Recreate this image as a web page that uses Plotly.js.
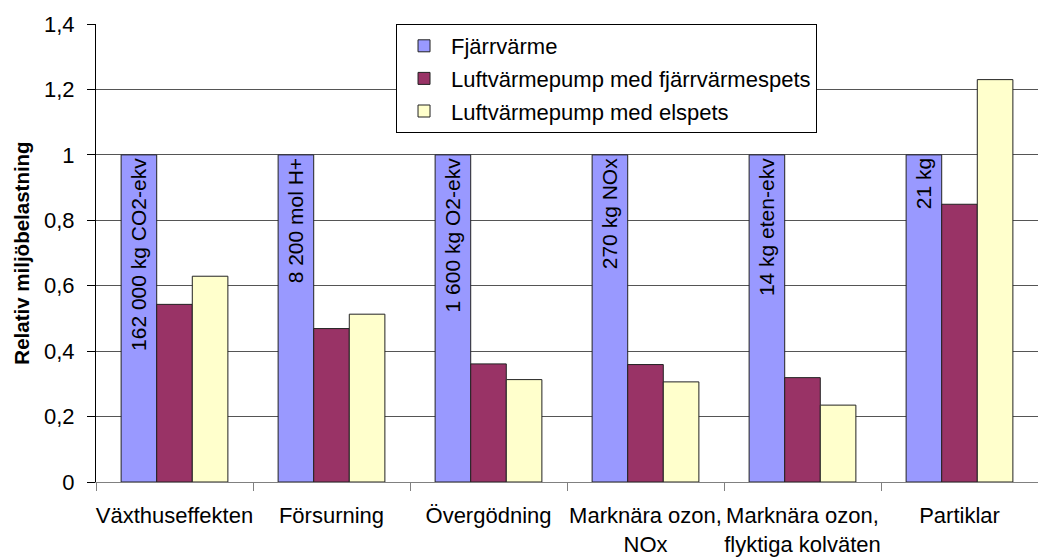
<!DOCTYPE html>
<html>
<head>
<meta charset="utf-8">
<script src="https://cdn.plot.ly/plotly-3.0.1.min.js"></script>
<style>html,body{margin:0;padding:0;background:#fff;}#chart{width:1038px;height:559px;}</style>
</head>
<body>
<div id="chart"></div>
<script>
const categories = ["Växthuseffekten", "Försurning", "Övergödning", "Marknära ozon,<br>NOx", "Marknära ozon,<br>flyktiga kolväten", "Partiklar"];
const fjarrvarme = [1, 1, 1, 1, 1, 1];
const luftFjarrspets = [0.543, 0.469, 0.361, 0.359, 0.319, 0.849];
const luftElspets = [0.629, 0.513, 0.313, 0.306, 0.235, 1.230];
const fjarrText = ["162 000 kg CO2-ekv", "8 200 mol H+", "1 600 kg O2-ekv", "270 kg NOx", "14 kg eten-ekv", "21 kg"];
const seriesNames = ["Fjärrvärme", "Luftvärmepump med fjärrvärmespets", "Luftvärmepump med elspets"];
const yTicks = [0, 0.2, 0.4, 0.6, 0.8, 1, 1.2, 1.4];

const FONT = "Liberation Sans, Arial, sans-serif";
const lineStyle = {color: "#222", width: 1};

const traces = [
  {type: "bar", name: seriesNames[0], x: categories, y: fjarrvarme, legendgroup: "a",
   marker: {color: "#9999FF", line: lineStyle},
   text: fjarrText, textposition: "inside", insidetextanchor: "end", textangle: -90,
   textfont: {family: FONT, size: 21, color: "#000"}, hoverinfo: "none"},
  {type: "bar", name: seriesNames[1], x: categories, y: luftFjarrspets, legendgroup: "b",
   marker: {color: "#993366", line: lineStyle}, hoverinfo: "none"},
  {type: "bar", name: seriesNames[2], x: categories, y: luftElspets, legendgroup: "c",
   marker: {color: "#FFFFCC", line: lineStyle}, hoverinfo: "none"}
];

const layout = {
  width: 1038, height: 559,
  margin: {l: 96, r: 0, t: 24, b: 77, pad: 0},
  paper_bgcolor: "#fff", plot_bgcolor: "#fff",
  separators: ", ",
  font: {family: FONT, size: 22, color: "#000"},
  barmode: "group", bargap: 0.32, bargroupgap: 0,
  showlegend: true,
  legend: {x: 0.3185, y: 1, xanchor: "left", yanchor: "top",
    bgcolor: "#fff", bordercolor: "#000", borderwidth: 1,
    font: {family: FONT, size: 22, color: "#000"},
    traceorder: "grouped", tracegroupgap: 1, itemwidth: 44,
    entrywidth: 420, entrywidthmode: "pixels"},
  xaxis: {type: "category", showline: true, linecolor: "#808080", linewidth: 1,
    ticks: "outside", tickson: "boundaries", ticklen: 8, tickcolor: "#808080",
    tickangle: 0, showgrid: false, tickfont: {family: FONT, size: 22, color: "#000"},
    ticklabelstandoff: 14, automargin: false, fixedrange: true},
  yaxis: {range: [0, 1.4], tickvals: yTicks, showline: true, linecolor: "#000", linewidth: 1,
    ticks: "outside", ticklen: 8, tickcolor: "#000",
    showgrid: true, gridcolor: "#555", gridwidth: 1, zeroline: false,
    tickfont: {family: FONT, size: 22, color: "#000"}, ticklabelstandoff: 8,
    title: {text: "Relativ miljöbelastning", font: {family: FONT, size: 20.5, color: "#000", weight: "bold"}, standoff: 8},
    fixedrange: true}
};

Plotly.newPlot("chart", traces, layout, {displayModeBar: false, staticPlot: true});
</script>
</body>
</html>
